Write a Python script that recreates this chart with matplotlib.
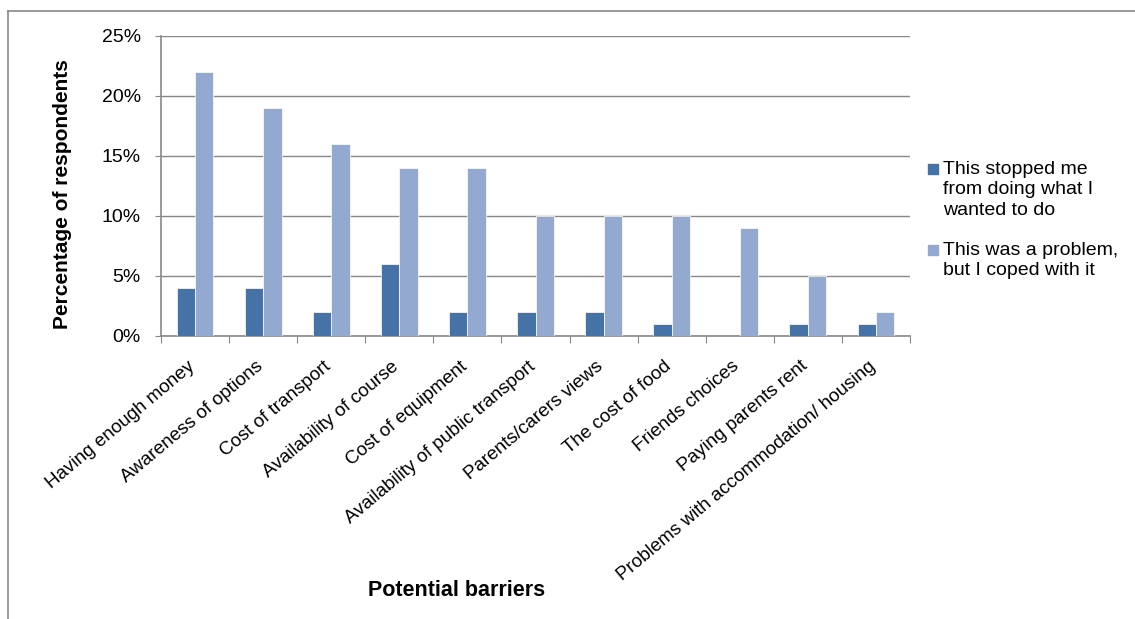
import matplotlib.pyplot as plt
import numpy as np
from matplotlib.patches import Rectangle
from matplotlib.transforms import ScaledTranslation

plt.rcParams['font.family'] = ['Liberation Sans', 'DejaVu Sans']

categories = [
    "Having enough money",
    "Awareness of options",
    "Cost of transport",
    "Availability of course",
    "Cost of equipment",
    "Availability of public transport",
    "Parents/carers views",
    "The cost of food",
    "Friends choices",
    "Paying parents rent",
    "Problems with accommodation/ housing",
]
stopped = [4, 4, 2, 6, 2, 2, 2, 1, 0, 1, 1]
coped = [22, 19, 16, 14, 14, 10, 10, 10, 9, 5, 2]
series_names = ["This stopped me\nfrom doing what I\nwanted to do",
                "This was a problem,\nbut I coped with it"]
yticks = [0, 5, 10, 15, 20, 25]

dark = "#4572A7"
light = "#93A9CF"
grey = "#888888"

W, H = 1135, 619
fig = plt.figure(figsize=(W / 100, H / 100), dpi=100)
ax = fig.add_axes([161 / W, 1 - 336 / H, (910 - 161) / W, 300 / H])

x = np.arange(len(categories))
w = 0.27
ax.bar(x - w / 2, stopped, w, color=dark, edgecolor="white", linewidth=0.5,
       zorder=3)
ax.bar(x + w / 2, coped, w, color=light, edgecolor="white", linewidth=0.5,
       zorder=3)

ax.set_xlim(-0.5, len(categories) - 0.5)
ax.set_ylim(0, 25)
ax.set_yticks(yticks)
ax.set_yticklabels([f"{v}%" for v in yticks], fontsize=14)
ax.yaxis.grid(True, color=grey, linewidth=1, zorder=0)
ax.tick_params(axis="y", length=4.5, color=grey, pad=10)

ax.set_xticks(np.arange(len(categories) + 1) - 0.5)
ax.set_xticklabels([])
ax.set_xticks(x, minor=True)
ax.set_xticklabels(categories, minor=True, rotation=40, ha="right",
                   rotation_mode="anchor", fontsize=13.6)
ax.tick_params(axis="x", which="major", length=5, color=grey)
ax.tick_params(axis="x", which="minor", length=0, pad=12)
shift = ScaledTranslation(-8 / 100, -5 / 100, fig.dpi_scale_trans)
for lbl in ax.get_xticklabels(minor=True):
    lbl.set_transform(lbl.get_transform() + shift)

for s in ["top", "right"]:
    ax.spines[s].set_visible(False)
for s in ["left", "bottom"]:
    ax.spines[s].set_color(grey)
    ax.spines[s].set_linewidth(1.2)

ax.set_ylabel("Percentage of respondents", fontsize=15, fontweight="bold")
ax.yaxis.set_label_coords(-0.119, 0.473)
fig.text(457 / W, 1 - 590 / H, "Potential barriers", fontsize=15.5,
         fontweight="bold", ha="center", va="center")

# legend drawn Excel-style: square aligned with first line of each entry
for name, col, ytop in [(series_names[0], dark, 161), (series_names[1], light, 242)]:
    fig.add_artist(Rectangle((928 / W, 1 - (ytop + 13) / H), 10 / W, 10 / H,
                             transform=fig.transFigure, color=col))
    fig.text(943 / W, 1 - ytop / H, name, fontsize=14, ha="left", va="top",
             linespacing=1.25)

# outer chart border
fig.add_artist(plt.Line2D([8 / W, 8 / W], [0, 1 - 11 / H],
                          transform=fig.transFigure, color=grey, lw=1.2))
fig.add_artist(plt.Line2D([8 / W, 1], [1 - 11 / H, 1 - 11 / H],
                          transform=fig.transFigure, color=grey, lw=1.2))

fig.savefig("out.png", dpi=100)
